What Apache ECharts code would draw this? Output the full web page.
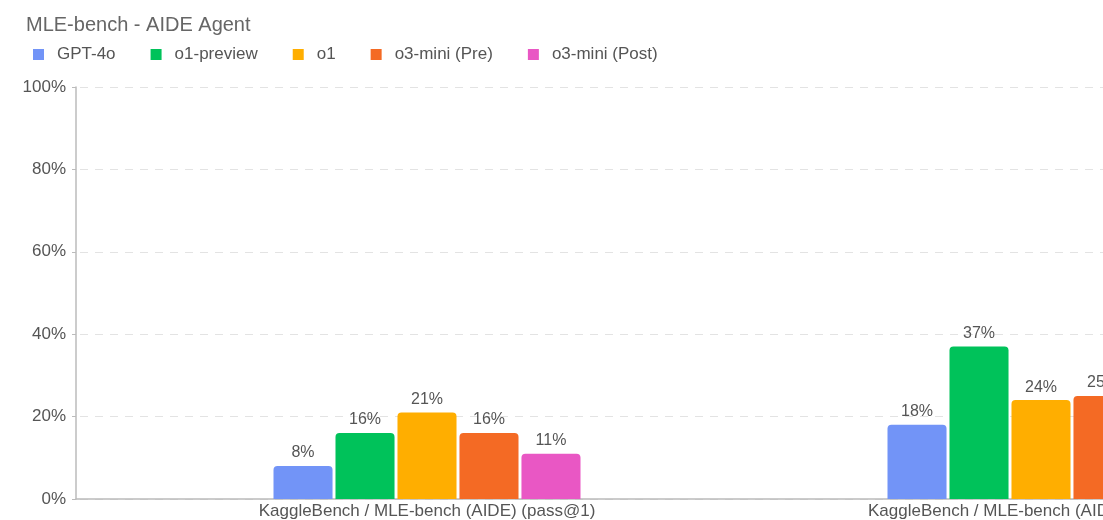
<!DOCTYPE html>
<html>
<head>
	<meta charset="utf-8" />
	<title>MLE-bench - AIDE Agent</title>
	<style>
		html, body { margin: 0; padding: 0; background: #fff; overflow: hidden; }
		#chart { width: 1348px; height: 520px; }
	</style>
</head>
<body>
	<div id="chart"></div>
	<script src="https://cdn.jsdelivr.net/npm/echarts@6/dist/echarts.min.js"></script>
	<script>
		const categories = [
			'KaggleBench / MLE-bench (AIDE) (pass@1)',
			'KaggleBench / MLE-bench (AIDE) (pass@10)'
		];
		const models = ['GPT-4o', 'o1-preview', 'o1', 'o3-mini (Pre)', 'o3-mini (Post)'];
		const colors = ['#7294f7', '#00c25a', '#ffae00', '#f46a24', '#e957c4'];
		const gpt4o = [8, 18];
		const o1preview = [16, 37];
		const o1 = [21, 24];
		const o3miniPre = [16, 25];
		const o3miniPost = [11, 20];
		const yTicks = [0, 20, 40, 60, 80, 100];

		const values = [gpt4o, o1preview, o1, o3miniPre, o3miniPost];
		const font = "'Liberation Sans', Arial, sans-serif";
		const yMin = yTicks[0];
		const yMax = yTicks[yTicks.length - 1];
		const yStep = yTicks[1] - yTicks[0];

		const chart = echarts.init(document.getElementById('chart'));

		const series = models.map(function (name, i) {
			return {
				name: name,
				type: 'bar',
				xAxisIndex: 1,
				yAxisIndex: 1,
				barGap: '5%',
				barCategoryGap: '50%',
				itemStyle: {
					color: colors[i],
					borderRadius: [4, 4, 0, 0]
				},
				label: {
					show: true,
					position: 'top',
					distance: 5,
					color: '#555',
					fontSize: 16,
					fontFamily: font,
					formatter: '{c}%'
				},
				data: values[i]
			};
		});

		chart.setOption({
			animation: false,
			color: colors,
			title: {
				text: 'MLE-bench - AIDE Agent',
				left: 21,
				top: 10,
				textStyle: {
					color: '#666',
					fontSize: 20,
					fontWeight: 'normal',
					fontFamily: font
				}
			},
			legend: {
				left: 28,
				top: 41,
				icon: 'rect',
				itemWidth: 11,
				itemHeight: 11,
				itemGap: 35,
				textStyle: {
					color: '#555',
					fontSize: 17,
					fontFamily: font,
					padding: [0, 0, 0, 8]
				},
				data: models
			},
			grid: [
				// axes frame
				{ left: 76, right: 0, top: 87, bottom: 21 },
				// bars
				{ left: 120, right: 0, top: 87, bottom: 21 }
			],
			xAxis: [{
				type: 'value',
				gridIndex: 0,
				axisLine: { show: true, lineStyle: { color: '#bbb', width: 1.5 } },
				axisTick: { show: false },
				axisLabel: { show: false },
				splitLine: { show: false }
			}, {
				type: 'category',
				gridIndex: 1,
				data: categories,
				axisLine: { show: false },
				axisTick: { show: false },
				axisLabel: {
					color: '#555',
					fontSize: 17,
					fontFamily: font,
					margin: 4
				}
			}],
			yAxis: [{
				type: 'value',
				gridIndex: 0,
				min: yMin,
				max: yMax,
				interval: yStep,
				axisLine: { show: true, lineStyle: { color: '#bbb', width: 1.5 } },
				axisTick: { show: true, length: 4, lineStyle: { color: '#bbb' } },
				axisLabel: {
					color: '#555',
					fontSize: 17,
					fontFamily: font,
					margin: 10,
					formatter: '{value}%'
				},
				splitLine: {
					lineStyle: { color: '#e3e3e3', type: [8, 7], dashOffset: -4 }
				}
			}, {
				type: 'value',
				gridIndex: 1,
				min: yMin,
				max: yMax,
				interval: yStep,
				show: false
			}],
			series: series
		});

		window.onresize = function () {
			chart.resize();
		};
	</script>
</body>
</html>
